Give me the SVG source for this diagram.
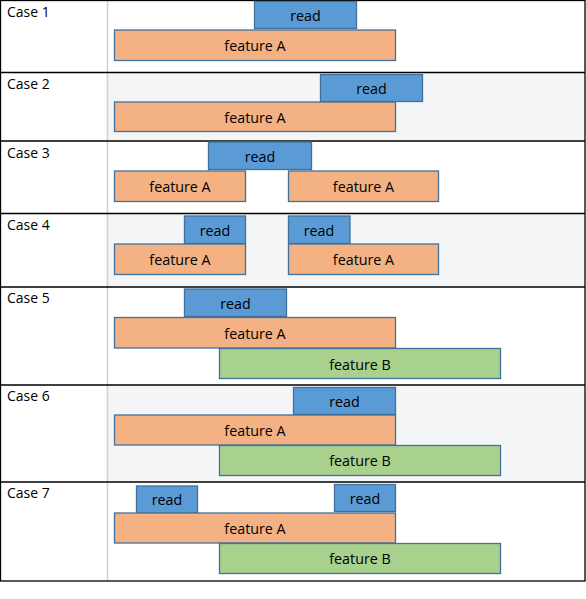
<svg xmlns="http://www.w3.org/2000/svg" width="586" height="599" viewBox="0 0 586 599">
<style>
text{font-family:"Open Sans","Noto Sans","Liberation Sans",sans-serif;font-size:14.3px;fill:#000}
.lb{font-size:14px}
.c{text-anchor:middle}
.read{fill:#5b9bd5;stroke:#41719c;stroke-width:1.3}
.fa{fill:#f4b183;stroke:#41719c;stroke-width:1.3}
.fb{fill:#a9d18e;stroke:#41719c;stroke-width:1.3}
.alt{fill:#f4f5f7}
.hl{stroke:#000;stroke-width:1.3}
</style>
<rect width="586" height="599" fill="#fff"/>
<g id="table">
<rect class="alt" x="108" y="73" width="477" height="68"/>
<rect class="alt" x="108" y="214" width="477" height="73"/>
<rect class="alt" x="108" y="385" width="477" height="97"/>
<line x1="107.5" y1="0" x2="107.5" y2="581" stroke="#d0d0d0" stroke-width="1.5"/>
<rect x="0.5" y="0.5" width="584.5" height="580.5" fill="none" stroke="#000" stroke-width="1.3"/>
<line class="hl" x1="0" y1="72.5" x2="585" y2="72.5"/>
<line class="hl" x1="0" y1="141" x2="585" y2="141"/>
<line class="hl" x1="0" y1="213.5" x2="585" y2="213.5"/>
<line class="hl" x1="0" y1="287" x2="585" y2="287"/>
<line class="hl" x1="0" y1="385" x2="585" y2="385"/>
<line class="hl" x1="0" y1="482" x2="585" y2="482"/>
<text class="lb" x="7" y="17">Case 1</text>
<text class="lb" x="7" y="89">Case 2</text>
<text class="lb" x="7" y="158">Case 3</text>
<text class="lb" x="7" y="230">Case 4</text>
<text class="lb" x="7" y="303">Case 5</text>
<text class="lb" x="7" y="401">Case 6</text>
<text class="lb" x="7" y="498">Case 7</text>
</g>
<g id="case1">
<rect class="read" x="254.5" y="1.5" width="102" height="27"/><text class="c" x="305.5" y="20.5">read</text>
<rect class="fa" x="114.5" y="30" width="281" height="30.5"/><text class="c" x="255" y="50.5">feature A</text>
</g>
<g id="case2">
<rect class="read" x="320.5" y="74.5" width="102" height="27"/><text class="c" x="371.5" y="93.5">read</text>
<rect class="fa" x="114.5" y="102" width="281" height="29.5"/><text class="c" x="255" y="122.5">feature A</text>
</g>
<g id="case3">
<rect class="read" x="208.5" y="142" width="103" height="27.5"/><text class="c" x="260" y="161.5">read</text>
<rect class="fa" x="114.5" y="171" width="131" height="30.5"/><text class="c" x="180" y="191.5">feature A</text>
<rect class="fa" x="288.5" y="171" width="150" height="30.5"/><text class="c" x="363.5" y="191.5">feature A</text>
</g>
<g id="case4">
<rect class="read" x="184.5" y="216" width="61" height="27.5"/><text class="c" x="215" y="235.5">read</text>
<rect class="read" x="288.5" y="216" width="61.5" height="27.5"/><text class="c" x="319" y="235.5">read</text>
<rect class="fa" x="114.5" y="244" width="131" height="30.5"/><text class="c" x="180" y="264.5">feature A</text>
<rect class="fa" x="288.5" y="244" width="150" height="30.5"/><text class="c" x="363.5" y="264.5">feature A</text>
</g>
<g id="case5">
<rect class="read" x="184.5" y="289" width="102" height="27.5"/><text class="c" x="235.5" y="308.5">read</text>
<rect class="fa" x="114.5" y="317.5" width="281" height="30.5"/><text class="c" x="255" y="338.5">feature A</text>
<rect class="fb" x="219.5" y="348.5" width="281" height="30"/><text class="c" x="360" y="369.5">feature B</text>
</g>
<g id="case6">
<rect class="read" x="293.5" y="387.5" width="102" height="27"/><text class="c" x="344.5" y="406.5">read</text>
<rect class="fa" x="114.5" y="415" width="281" height="30"/><text class="c" x="255" y="435.5">feature A</text>
<rect class="fb" x="219.5" y="445.5" width="281" height="30"/><text class="c" x="360" y="466">feature B</text>
</g>
<g id="case7">
<rect class="read" x="136.5" y="486" width="61" height="27"/><text class="c" x="167" y="505">read</text>
<rect class="read" x="334.5" y="484.5" width="61" height="27"/><text class="c" x="365" y="503.5">read</text>
<rect class="fa" x="114.5" y="513" width="281" height="30"/><text class="c" x="255" y="533.5">feature A</text>
<rect class="fb" x="219.5" y="543.5" width="281" height="30"/><text class="c" x="360" y="564">feature B</text>
</g>
</svg>
